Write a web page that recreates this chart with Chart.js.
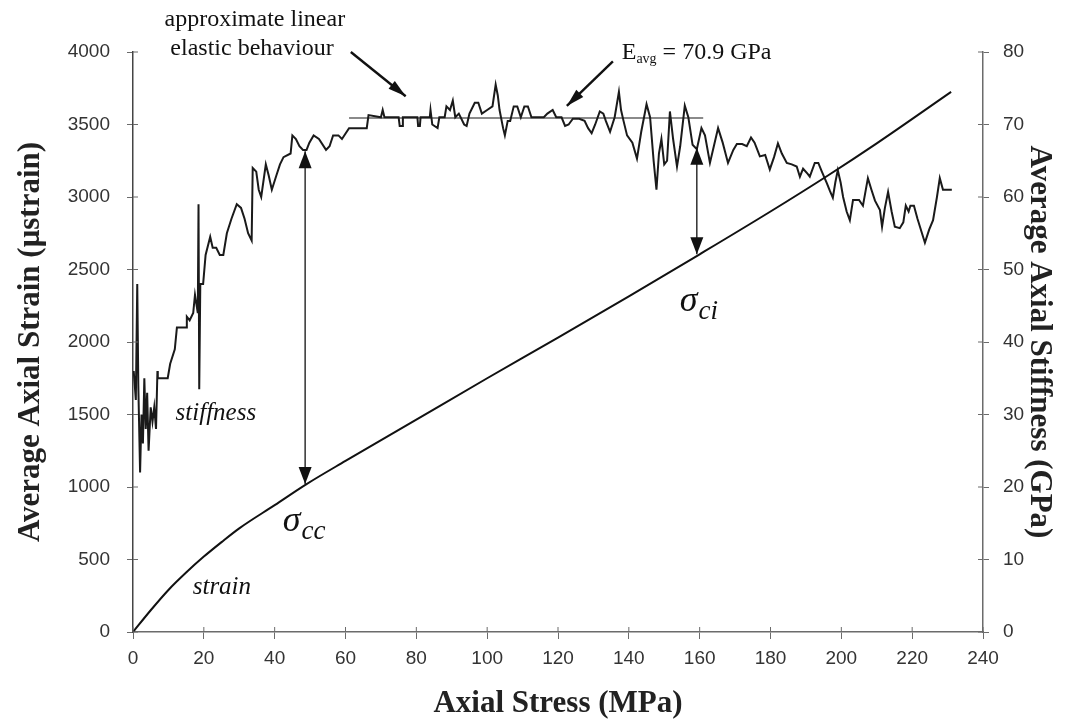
<!DOCTYPE html>
<html>
<head>
<meta charset="utf-8">
<script src="https://cdn.jsdelivr.net/npm/chart.js@4.4.1/dist/chart.umd.min.js"></script>
<style>
  html, body { margin: 0; padding: 0; background: #fff; }
  #wrap { width: 1070px; height: 725px; position: relative; }
</style>
</head>
<body>
<div id="wrap"><canvas id="stressChart"></canvas></div>
<script>
// axis ticks
const stressTicks = [0, 20, 40, 60, 80, 100, 120, 140, 160, 180, 200, 220, 240];
const strainTicks = [0, 500, 1000, 1500, 2000, 2500, 3000, 3500, 4000];
const stiffTicks = [0, 10, 20, 30, 40, 50, 60, 70, 80];

// strain curve (MPa, microstrain)
const strainStress = [0, 5, 10, 15, 20, 25, 30, 40, 49, 60, 80, 100, 120, 140, 160, 180, 196, 210, 231];
const strainValues = [0, 150, 290, 410, 520, 620, 715, 875, 1020, 1180, 1465, 1750, 2030, 2315, 2605, 2900, 3145, 3370, 3725];

// stiffness trace (MPa, GPa)
const stiffStress = [
  0.2, 0.8, 1.2, 1.5, 2.0, 2.4, 2.8, 3.2, 3.6, 4.0, 4.4, 5.0, 5.5, 6.0, 6.5, 6.9, 7.0, 9.8,
  10.5, 11.8, 12.4, 15.0, 15.2, 16.0, 17.0, 17.5, 18.3, 18.5, 18.7, 19.0, 19.8, 20.5, 21.8,
  22.5, 23.5, 24.5, 25.5, 26.5, 27.8, 29.3, 30.5, 31.5, 32.5, 33.5, 33.8, 34.8, 35.5, 36.2,
  37.5, 38.3, 39.2, 40.5, 41.5, 42.5, 44.5, 45.0, 46.0, 47.0, 48.0, 49.0, 49.8, 51.0, 52.5,
  54.5, 55.5, 56.5, 58.0, 59.0, 61.0, 63.0, 65.0, 66.0, 66.5, 70.0, 70.5, 71.0, 75.0, 75.3,
  76.0, 76.2, 80.3, 80.5, 81.0, 81.2, 83.8, 84.0, 84.5, 86.0, 86.5, 88.0, 88.5, 89.5, 90.3,
  91.0, 92.0, 93.5, 94.2, 95.0, 96.5, 97.5, 98.5, 100, 101.5, 102.4, 103.0, 103.5, 104.5,
  105.0, 105.8, 106.5, 107.5, 108.5, 109.5, 110.5, 111.5, 112.5, 114.5, 116, 117, 118.5,
  119.5, 121, 122, 123, 124.2, 126, 127.5, 128.5, 129.5, 130.5, 131.8, 132.8, 133.5, 134.7,
  136, 137.2, 137.8, 138.5, 139.5, 141, 142.3, 143.5, 145.0, 146, 147, 147.8, 148.5, 149.2,
  150.0, 150.8, 151.6, 152.5, 153.6, 154.5, 155.8, 156.8, 158.0, 159.2, 160.5, 161.5, 162.9,
  164, 165.2, 166.5, 168, 169.5, 170.5, 172, 173.3, 174.5, 175.5, 177, 178.5, 179.8, 181,
  182.1, 183.2, 184.6, 186, 187.4, 188.3, 189.2, 190.5, 191.1, 192.5, 193.5, 194.5, 195.9,
  196.8, 197.6, 198.3, 199.0, 199.8, 200.5, 201.5, 202.4, 203.3, 205, 206.1, 207.5, 208.5,
  209.5, 210.9, 211.5, 212.3, 213.2, 214.2, 215.1, 216.5, 217.5, 218.2, 219.0, 219.5, 220.5,
  221.5, 222.2, 223.6, 224.8, 225.9, 227.0, 227.8, 228.7, 231.2
];
const stiffValues = [
  36, 32, 48, 34, 22, 30, 26, 35, 28, 33, 25, 31, 29, 31, 28, 36, 35, 35,
  37, 39, 42, 42, 43.5, 43, 44, 46.5, 44, 59, 33.5, 48, 48, 52, 54.5,
  53, 53, 52, 52, 55, 57, 59, 58.5, 57, 55, 54, 64, 63.5, 61, 60,
  64.5, 63, 61, 63, 64.5, 65.5, 66, 68.5, 68, 67, 66.5, 66.5, 67.5, 68.5, 68,
  66.5, 67, 68.5, 68.5, 68, 69.5, 69.5, 69.5, 69.5, 71.3, 71, 72, 71, 71, 69.8,
  69.8, 71, 71, 69.8, 69.8, 71, 71, 72, 70, 69.5, 71, 71, 72.5, 72, 73.3,
  71, 71.5, 70, 69.8, 71.5, 73, 73, 71.5, 72, 72.5, 75.5, 74, 72, 69.5,
  68.5, 70.5, 70.5, 72.5, 72.5, 71, 72.5, 72.5, 71, 71, 71, 71.5, 72,
  71, 71, 69.8, 70, 70.8, 70.8, 70.5, 69.5, 68.8, 70, 71.8, 71.5, 70.5, 69,
  71, 74.5, 72, 70.5, 68.5, 67.5, 65.3, 69, 72.8, 71, 65, 61, 66, 68,
  64.5, 65, 71.8, 68, 64.2, 67, 72.6, 71, 67.2, 66.6, 69.5, 68.5, 64.7,
  67, 69.5, 67.5, 64.7, 66.5, 67.3, 67.3, 67, 68.2, 67.5, 65.6, 65.8, 63.8, 65.5,
  67.4, 66, 64.7, 64.5, 64.2, 62.8, 63.9, 63.2, 62.8, 64.7, 64.7, 63.5, 61.9,
  60.8, 59.9, 62, 63.7, 62, 60, 58, 56.8, 59.6, 59.6, 58.8, 62.6, 61,
  59.5, 58.2, 55.9, 58.5, 60.7, 58, 55.9, 55.7, 56.5, 58.8, 58, 58.8, 58.8,
  57, 55.9, 53.7, 55.5, 56.8, 60, 62.6, 61, 61
];

// average modulus line
const avgStress = [61, 161];
const avgStiff = [70.9, 70.9];

const toPoints = (xs, ys) => xs.map((x, i) => ({ x: x, y: ys[i] }));

const tickFont = { family: "'Liberation Sans', Arial, sans-serif", size: 19 };
const titleFont = { family: "'Liberation Serif', 'Times New Roman', serif", size: 31, weight: "bold" };
const serif = "'Liberation Serif', 'Times New Roman', serif";

function fixTicks(list) {
  return function (scale) {
    scale.ticks = list.map((v) => ({ value: v }));
  };
}

function drawArrowHead(ctx, x1, y1, x2, y2, len, wid) {
  const ang = Math.atan2(y2 - y1, x2 - x1);
  ctx.save();
  ctx.translate(x2, y2);
  ctx.rotate(ang);
  ctx.beginPath();
  ctx.moveTo(0, 0);
  ctx.lineTo(-len, -wid / 2);
  ctx.lineTo(-len, wid / 2);
  ctx.closePath();
  ctx.fill();
  ctx.restore();
}

function arrow(ctx, x1, y1, x2, y2, lw, len, wid, both) {
  ctx.lineWidth = lw;
  ctx.beginPath();
  ctx.moveTo(x1, y1);
  ctx.lineTo(x2, y2);
  ctx.stroke();
  drawArrowHead(ctx, x1, y1, x2, y2, len, wid);
  if (both) drawArrowHead(ctx, x2, y2, x1, y1, len, wid);
}

function sigma(ctx, x, y, sub) {
  ctx.textAlign = "left";
  ctx.textBaseline = "alphabetic";
  ctx.font = "italic 36px " + serif;
  ctx.fillText("\u03c3", x, y);
  const w = ctx.measureText("\u03c3").width;
  ctx.font = "italic 27px " + serif;
  ctx.fillText(sub, x + w + 1, y + 8);
}

// annotations placed with the chart's own scales
const notes = {
  id: "notes",
  afterDatasetsDraw(chart) {
    const ctx = chart.ctx;
    const sx = chart.scales.x, sy = chart.scales.y, sk = chart.scales.y1;
    const X = (v) => sx.getPixelForValue(v);
    const Y = (v) => sy.getPixelForValue(v);
    const K = (v) => sk.getPixelForValue(v);
    const area = chart.chartArea;
    ctx.save();

    // inner half of the crossing tick marks
    ctx.strokeStyle = "#6b6b6b";
    ctx.lineWidth = 1;
    ctx.beginPath();
    stressTicks.forEach((v) => { ctx.moveTo(X(v), area.bottom); ctx.lineTo(X(v), area.bottom - 5); });
    strainTicks.forEach((v) => { ctx.moveTo(area.left, Y(v)); ctx.lineTo(area.left + 5, Y(v)); });
    stiffTicks.forEach((v) => { ctx.moveTo(area.right, K(v)); ctx.lineTo(area.right - 5, K(v)); });
    ctx.stroke();

    ctx.fillStyle = "#111";
    ctx.strokeStyle = "#111";

    // double arrows between strain and stiffness
    arrow(ctx, X(48.6), Y(1020), X(48.6), K(66.3), 1.3, 17, 13, true);
    arrow(ctx, X(159.2), Y(2605), X(159.2), K(66.8), 1.3, 17, 13, true);

    // pointer arrows
    arrow(ctx, X(61.5), Y(4000), X(77), Y(3695), 2.4, 18, 10, false);
    arrow(ctx, X(135.5), Y(3935), X(122.5), Y(3628), 2.4, 18, 10, false);

    // texts
    ctx.textAlign = "center";
    ctx.textBaseline = "middle";
    ctx.font = "24px " + serif;
    ctx.fillText("approximate linear", X(34.4), Y(4225));
    ctx.fillText("elastic behaviour", X(33.6), Y(4025));

    ctx.textAlign = "left";
    ctx.fillText("E", X(138), Y(3995));
    const w = ctx.measureText("E").width;
    ctx.font = "14px " + serif;
    ctx.fillText("avg", X(138) + w, Y(3995) + 7);
    const w2 = ctx.measureText("avg").width;
    ctx.font = "24px " + serif;
    ctx.fillText(" = 70.9 GPa", X(138) + w + w2, Y(3995));

    ctx.textAlign = "center";
    ctx.font = "italic 25px " + serif;
    ctx.fillText("stiffness", X(23.4), Y(1510));
    ctx.fillText("strain", X(25.1), Y(305));

    sigma(ctx, X(42.3), Y(700), "cc");
    sigma(ctx, X(154.4), Y(2215), "ci");
    ctx.restore();
  },
};

const axisColor = "#6b6b6b";
const plainLabel = (v) => String(v);

const ctx = document.getElementById("stressChart").getContext("2d");
const stressChart = new Chart(ctx, {
  type: "line",
  data: {
    datasets: [
      {
        label: "strain",
        data: toPoints(strainStress, strainValues),
        yAxisID: "y",
        borderColor: "#111",
        borderWidth: 2,
        pointRadius: 0,
        cubicInterpolationMode: "monotone",
      },
      {
        label: "stiffness",
        data: toPoints(stiffStress, stiffValues),
        yAxisID: "y1",
        borderColor: "#1a1a1a",
        borderWidth: 2,
        pointRadius: 0,
        tension: 0,
      },
      {
        label: "E avg",
        data: toPoints(avgStress, avgStiff),
        yAxisID: "y1",
        borderColor: "#8a8a8a",
        borderWidth: 2,
        pointRadius: 0,
      },
    ],
  },
  options: {
    responsive: true,
    maintainAspectRatio: false,
    animation: false,
    events: [],
    layout: { padding: { top: 52, left: 0, right: 0, bottom: 0 } },
    plugins: {
      legend: { display: false },
      tooltip: { enabled: false },
    },
    scales: {
      x: {
        type: "linear",
        min: 0,
        max: 240,
        afterBuildTicks: fixTicks(stressTicks),
        afterFit(scale) { scale.height = 93; },
        border: { color: axisColor, width: 1.5 },
        grid: { drawOnChartArea: false, color: axisColor, tickLength: 7 },
        ticks: { font: tickFont, color: "#333", padding: 8, maxRotation: 0, callback: plainLabel },
        title: {
          display: true,
          text: "Axial Stress (MPa)",
          font: titleFont,
          color: "#222",
          padding: { top: 0, bottom: 2 },
        },
      },
      y: {
        type: "linear",
        position: "left",
        min: 0,
        max: 4000,
        afterBuildTicks: fixTicks(strainTicks),
        afterFit(scale) { scale.width = 133; },
        border: { color: "#444", width: 1.5 },
        grid: { drawOnChartArea: false, color: axisColor, tickLength: 6 },
        ticks: { font: tickFont, color: "#333", padding: 17, callback: plainLabel },
        title: {
          display: true,
          text: "Average Axial Strain (\u03bcstrain)",
          font: titleFont,
          color: "#222",
          padding: { top: 12, bottom: 0 },
        },
      },
      y1: {
        type: "linear",
        position: "right",
        min: 0,
        max: 80,
        afterBuildTicks: fixTicks(stiffTicks),
        afterFit(scale) { scale.width = 87; },
        border: { color: axisColor, width: 1.5 },
        grid: { drawOnChartArea: false, color: axisColor, tickLength: 6 },
        ticks: { font: tickFont, color: "#333", padding: 14, callback: plainLabel },
        title: {
          display: true,
          text: "Average Axial Stiffness (GPa)",
          font: titleFont,
          color: "#222",
          padding: { top: 12, bottom: 0 },
        },
      },
    },
  },
  plugins: [notes],
});
</script>
</body>
</html>
